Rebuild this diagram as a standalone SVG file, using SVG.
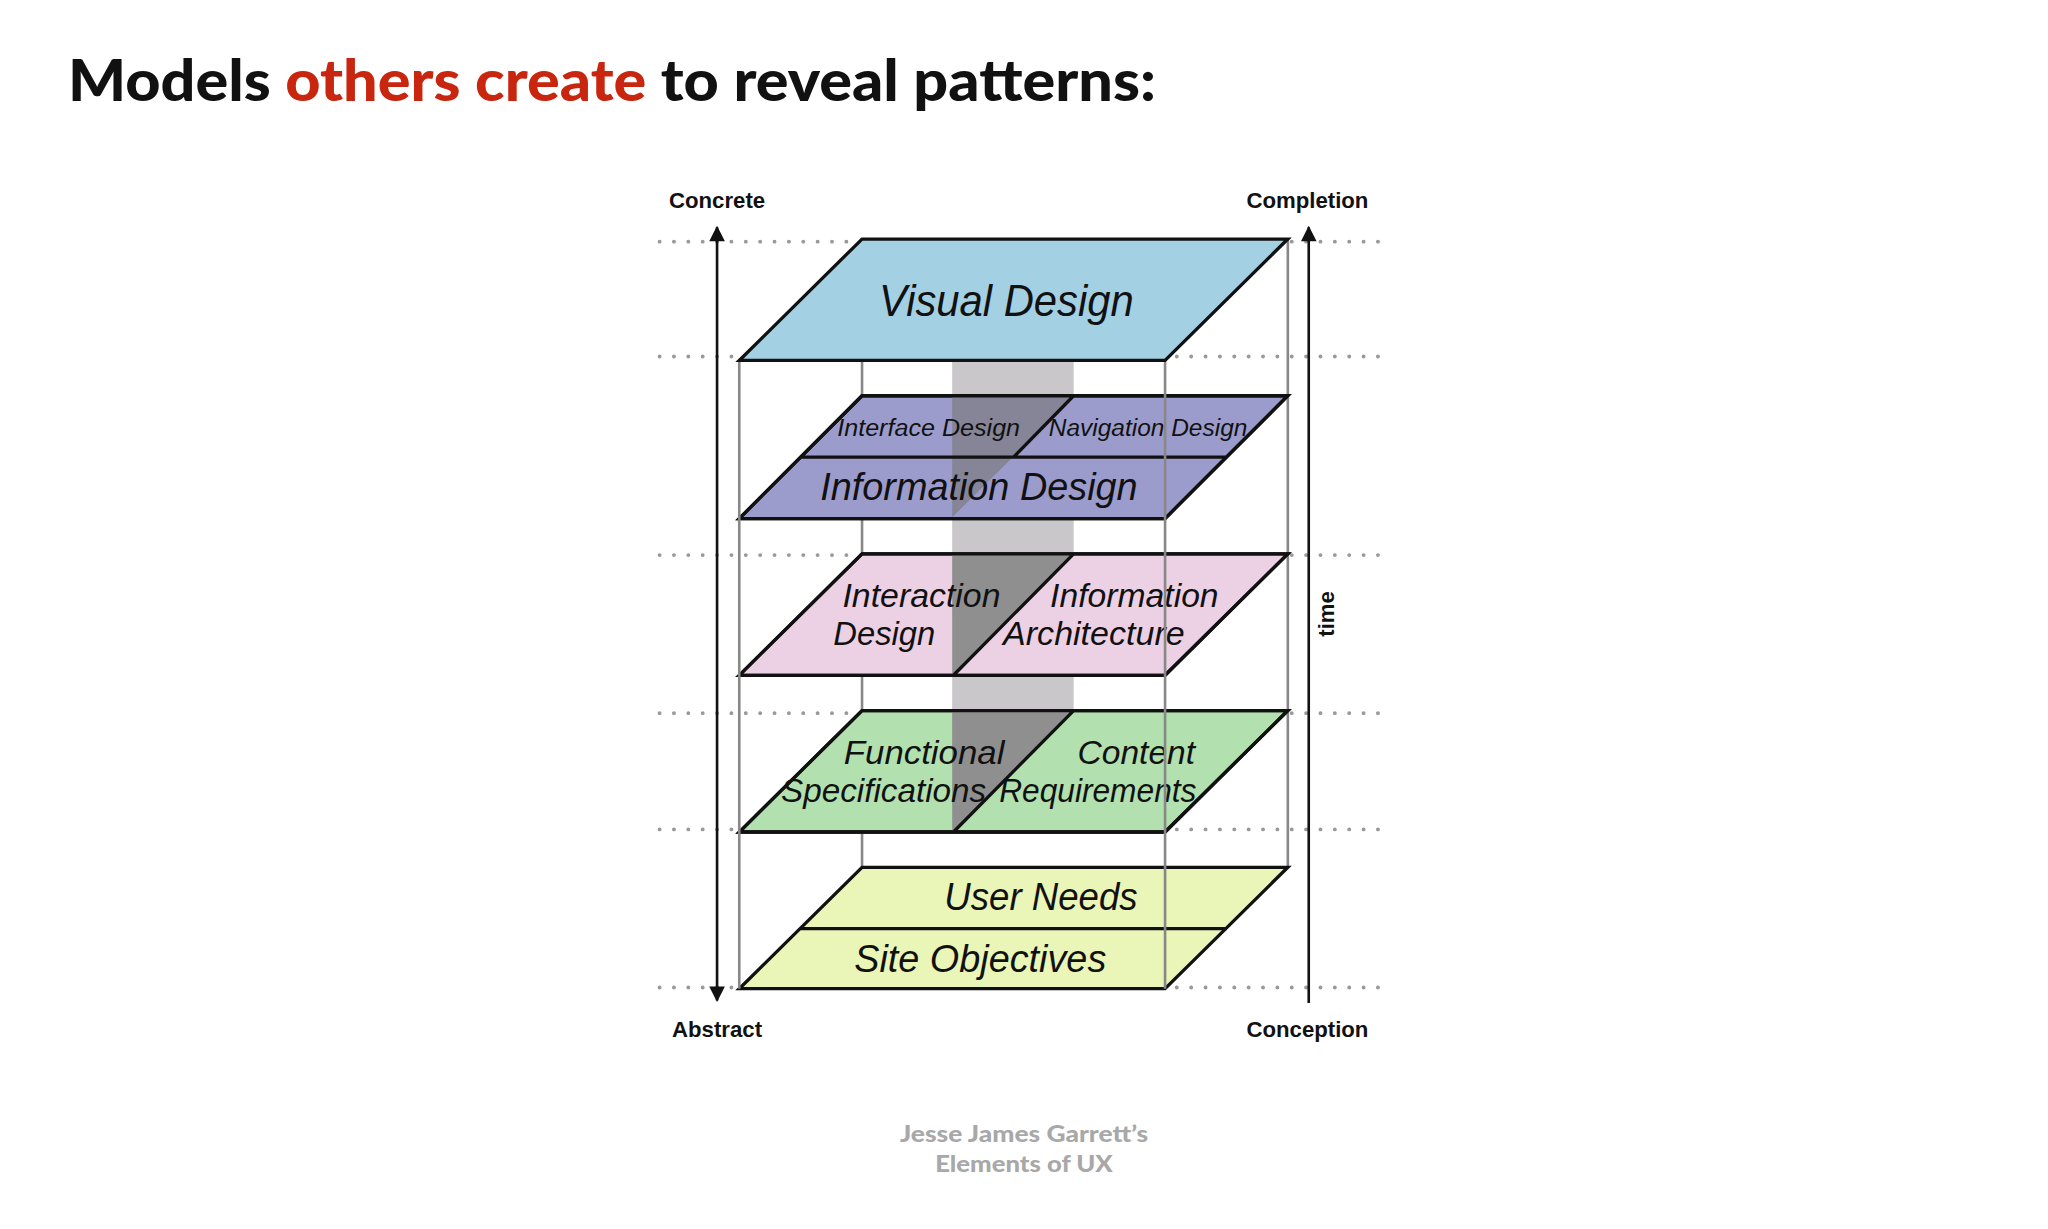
<svg xmlns="http://www.w3.org/2000/svg" width="2048" height="1229" viewBox="0 0 2048 1229">
<defs>
<style>
.dot{stroke:#999;stroke-width:3;stroke-dasharray:0 11;stroke-linecap:round;fill:none}
.frame{stroke:#888;stroke-width:2;fill:none}
.plane{stroke:#111;stroke-width:2.5}
.lbl{font-family:"Liberation Sans",Arial,sans-serif;font-style:italic;fill:#111}
.ax{font-family:"Liberation Sans",Arial,sans-serif;font-weight:bold;font-size:17px;fill:#111;text-anchor:middle}
</style>
<marker id="ah" viewBox="0 0 10 10" refX="9" refY="5" markerWidth="14" markerHeight="12" orient="auto-start-reverse" markerUnits="userSpaceOnUse"><path d="M0,0L10,5L0,10z" fill="#111"/></marker>
</defs>
<rect width="2048" height="1229" fill="#fff"/>
<g transform="scale(1.306122)">
<g id="title"><text x="52" y="77" font-family="Lato,'Open Sans',sans-serif" font-weight="900" font-size="43" fill="#111" textLength="833" lengthAdjust="spacingAndGlyphs">Models <tspan fill="#c8260f">others create</tspan> to reveal patterns:</text></g>
<g id="guides">
<path class="dot" d="M505 185H1065M505 273H1065M505 425H1065M505 546H1065M505 635H1065M505 756H1065"/>
</g>
<g id="band">
<rect x="729" y="276" width="93" height="361" fill="#c9c7c9"/>
</g>
<g id="frame-back"><path class="frame" d="M660 183V664M986 183V664"/></g>
<g id="yellow">
<path class="plane" fill="#eaf5b8" d="M660 664H986L892 757H566Z"/>
<path class="plane" fill="none" d="M613 711H939"/>
<text class="lbl" x="723" y="697" font-size="30" textLength="148" lengthAdjust="spacingAndGlyphs">User Needs</text>
<text class="lbl" x="654" y="744" font-size="30" textLength="193" lengthAdjust="spacingAndGlyphs">Site Objectives</text>
</g>
<g id="green">
<path class="plane" fill="#b2e0ae" d="M660 544H986L892 637H566Z"/>
<path fill="#8f8f8f" d="M729 545H822L730 636H729Z"/>
<path class="plane" fill="none" d="M660 544H986L892 637H566ZM822 544L730 637"/>
<text class="lbl" x="646" y="585" font-size="26" textLength="123" lengthAdjust="spacingAndGlyphs">Functional</text>
<text class="lbl" x="598" y="614" font-size="26" textLength="157" lengthAdjust="spacingAndGlyphs">Specifications</text>
<text class="lbl" x="825" y="585" font-size="26" textLength="90" lengthAdjust="spacingAndGlyphs">Content</text>
<text class="lbl" x="765" y="614" font-size="26" textLength="151" lengthAdjust="spacingAndGlyphs">Requirements</text>
</g>
<g id="pink">
<path class="plane" fill="#ecd0e4" d="M660 424H986L892 517H566Z"/>
<path fill="#8f8f8f" d="M729 425H822L730 516H729Z"/>
<path class="plane" fill="none" d="M660 424H986L892 517H566ZM822 424L730 517"/>
<text class="lbl" x="645" y="465" font-size="26" textLength="121" lengthAdjust="spacingAndGlyphs">Interaction</text>
<text class="lbl" x="638" y="494" font-size="26" textLength="78" lengthAdjust="spacingAndGlyphs">Design</text>
<text class="lbl" x="804" y="465" font-size="26" textLength="129" lengthAdjust="spacingAndGlyphs">Information</text>
<text class="lbl" x="768" y="494" font-size="26" textLength="139" lengthAdjust="spacingAndGlyphs">Architecture</text>
</g>
<g id="purple">
<path class="plane" fill="#9c9ccc" d="M660 303H986L892 397H566Z"/>
<path fill="#858597" d="M729 304H822L729 396Z"/>
<path class="plane" fill="none" d="M660 303H986L892 397H566ZM613 350H939M822 303L776 350"/>
<text class="lbl" x="641" y="334" font-size="19" textLength="140" lengthAdjust="spacingAndGlyphs">Interface Design</text>
<text class="lbl" x="803" y="334" font-size="19" textLength="152" lengthAdjust="spacingAndGlyphs">Navigation Design</text>
<text class="lbl" x="628" y="383" font-size="30" textLength="243" lengthAdjust="spacingAndGlyphs">Information Design</text>
</g>
<g id="frame-front"><path class="frame" d="M566 276V757M892 276V757"/></g>
<g id="blue">
<path class="plane" fill="#a3d0e3" d="M660 183H986L892 276H566Z"/>
<text class="lbl" x="673" y="242" font-size="34" textLength="195" lengthAdjust="spacingAndGlyphs">Visual Design</text>
</g>
<g id="connectors">
<path d="M549 766V174" stroke="#111" stroke-width="2" marker-start="url(#ah)" marker-end="url(#ah)"/>
<path d="M1002 768V174" stroke="#111" stroke-width="2" marker-end="url(#ah)"/>
</g>
<g id="axis-labels">
<text class="ax" x="549" y="159">Concrete</text>
<text class="ax" x="1001" y="159">Completion</text>
<text class="ax" x="549" y="794">Abstract</text>
<text class="ax" x="1001" y="794">Conception</text>
<text class="ax" transform="translate(1021 470) rotate(-90)">time</text>
</g>
<g id="footer" font-family="Lato,'Open Sans',sans-serif" font-weight="900" font-size="18" fill="#a8a8a8">
<text x="689" y="874" textLength="190" lengthAdjust="spacingAndGlyphs">Jesse James Garrett’s</text>
<text x="716" y="897" textLength="136" lengthAdjust="spacingAndGlyphs">Elements of UX</text>
</g>
</g>
</svg>
